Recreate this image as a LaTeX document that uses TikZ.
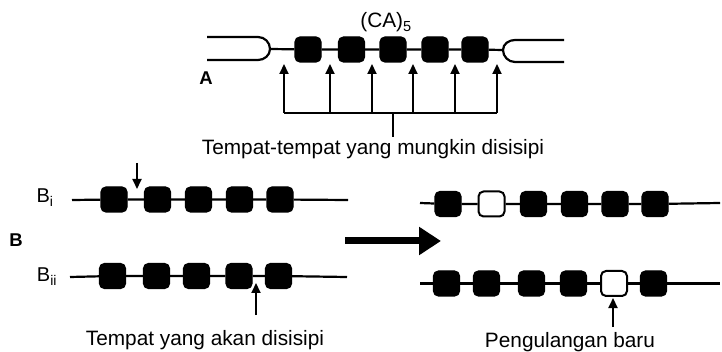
\documentclass[tikz,border=0pt]{standalone}
\usepackage{fontspec}
\setmainfont{Liberation Sans}
\usetikzlibrary{arrows.meta}

\tikzset{
  repeatbox/.style={rectangle, rounded corners=5pt, fill=black, draw=black,
    line width=1.2pt, minimum width=26pt, minimum height=25pt, inner sep=0pt},
  newbox/.style={repeatbox, fill=white, line width=2pt},
  strand/.style={line width=2.2pt},
  pointer/.style={line width=2pt, -{Triangle[length=10pt,width=9pt]}},
  txt/.style={font=\fontsize{20.8}{23}\selectfont, inner sep=0pt, anchor=base},
  tag/.style={font=\fontsize{20}{22}\selectfont, inner sep=0pt, anchor=base},
  parttag/.style={font=\bfseries\fontsize{18.5}{20}\selectfont, inner sep=0pt, anchor=base}
}

\begin{document}
\begin{tikzpicture}[x=1pt, y=-1pt]
\useasboundingbox (0,0) rectangle (722,352);

% ---------- A: (CA)5 repeat between flanking regions ----------
\node[txt] (ca) at (386,28) {(CA)\textsubscript{5}};
\node[parttag] (lblA) at (206,85) {A};

\coordinate (fl) at (270,49);
\coordinate (fr) at (503,50);
% left flank: two strands joined by a rounded end
\draw[strand] (207,37) -- (258,37) to[out=0,in=90] (fl) to[out=-90,in=0] (258,60) -- (207,60);
% right flank
\draw[strand] (564,40) -- (515,40) to[out=180,in=90] (fr) to[out=-90,in=180] (515,62) -- (564,62);

\foreach \i/\x in {1/308,2/351.5,3/393,4/435,5/475}
  \node[repeatbox] (a\i) at (\x,49.5) {};
\draw[strand] (fl) -- (a1) -- (a2) -- (a3) -- (a4) -- (a5) -- (fr);

% possible insertion sites
\foreach \i/\x in {1/284,2/330,3/372,4/413,5/455,6/497} {
  \coordinate (t\i) at (\x,64);
  \coordinate (r\i) at (\x,113);
  \draw[pointer] (r\i) -- (t\i);
}
\draw[line width=2pt] (r1) -- (r6);
\coordinate (stemtop) at (393,113);
\coordinate (stembot) at (393,137);
\draw[line width=2pt] (stemtop) -- (stembot);
\node[txt] (sites) at (373,155) {Tempat-tempat yang mungkin disisipi};

% ---------- B: insertion of a new repeat ----------
\node[parttag] (lblB) at (16,247) {B};
\node[tag] (lblBi) at (45,203) {B\textsubscript{i}};
\node[tag] (lblBii) at (47,282) {B\textsubscript{ii}};

% Bi before
\coordinate (bis) at (72,200);
\coordinate (bie) at (348,200);
\foreach \i/\x in {1/114,2/157.5,3/198.5,4/239.5,5/280}
  \node[repeatbox] (bi\i) at (\x,199.5) {};
\draw[strand] (bis) -- (bi1) -- (bi2) -- (bi3) -- (bi4) -- (bi5) -- (bie);
\coordinate (bitail) at (137,163);
\coordinate (bitip) at (137,189);
\draw[pointer] (bitail) -- (bitip);

% Bii before
\coordinate (biis) at (70,277);
\coordinate (biie) at (347,277);
\foreach \i/\x in {1/112.5,2/156.5,3/196.5,4/239,5/278.5}
  \node[repeatbox] (bii\i) at (\x,276) {};
\draw[strand] (biis) -- (bii1) -- (bii2) -- (bii3) -- (bii4) -- (bii5) -- (biie);
\coordinate (biitail) at (256,315);
\coordinate (biitip) at (256,283);
\draw[pointer] (biitail) -- (biitip);
\node[txt] (target) at (205,345) {Tempat yang akan disisipi};

% transition arrow
\coordinate (mfrom) at (345,241);
\coordinate (mto) at (441,241);
\draw[line width=7pt, -{Triangle[length=22pt,width=27pt]}] (mfrom) -- (mto);

% Bi after
\coordinate (cis) at (420,203);
\coordinate (cie) at (720,203);
\foreach \i/\x in {1/448,3/533.5,4/574.5,5/615,6/655}
  \node[repeatbox] (ci\i) at (\x,204) {};
\node[newbox] (ci2) at (491.5,204) {};
\draw[strand] (cis) -- (ci1) -- (ci2) -- (ci3) -- (ci4) -- (ci5) -- (ci6) -- (cie);

% Bii after
\coordinate (ciis) at (420,283.5);
\coordinate (ciie) at (720,283.5);
\foreach \i/\x in {1/446.5,2/486.5,3/531.5,4/573.5,6/653.5}
  \node[repeatbox] (cii\i) at (\x,283.5) {};
\node[newbox] (cii5) at (614,283.5) {};
\draw[strand] (ciis) -- (cii1) -- (cii2) -- (cii3) -- (cii4) -- (cii5) -- (cii6) -- (ciie);
\coordinate (newtail) at (613,327);
\coordinate (newtip) at (613,298);
\draw[pointer] (newtail) -- (newtip);
\node[txt] (newrep) at (570,347) {Pengulangan baru};

\end{tikzpicture}
\end{document}
